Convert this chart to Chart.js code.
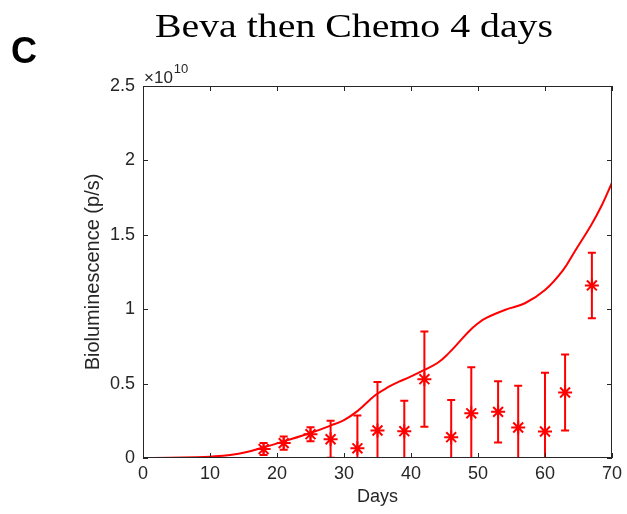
<!DOCTYPE html>
<html>
<head>
<meta charset="utf-8">
<script src="https://cdn.jsdelivr.net/npm/chart.js@4.4.1/dist/chart.umd.min.js"></script>
<style>
  html, body { margin: 0; padding: 0; background: #fff; }
  #wrap { width: 627px; height: 514px; position: relative; }
</style>
</head>
<body>
<div id="wrap"><canvas id="chart" width="627" height="514"></canvas></div>
<script>
// measured tumour signal (units of 1e10 p/s)
const obsDays = [18, 21, 25, 28, 32, 35, 39, 42, 46, 49, 53, 56, 60, 63, 67];
const obsMean = [0.06, 0.10, 0.16, 0.126, 0.065, 0.185, 0.18, 0.53, 0.14, 0.30, 0.31, 0.205, 0.178, 0.44, 1.16];
const obsErr  = [0.04, 0.045, 0.047, 0.124, 0.22, 0.325, 0.205, 0.32, 0.25, 0.31, 0.205, 0.28, 0.395, 0.255, 0.22];

// model fit
const fitDays = [0, 4, 8, 10, 13, 15.5, 18, 21, 25, 28, 30, 32, 34.7, 36.7, 38.2, 39.7, 42, 44, 45.6, 47, 48.6, 50, 51.1, 54, 57, 60, 62.7, 64.6, 66.9, 68.5, 70];
const fitVals = [0, 0.001, 0.005, 0.009, 0.02, 0.04, 0.072, 0.112, 0.168, 0.218, 0.255, 0.315, 0.423, 0.479, 0.513, 0.542, 0.592, 0.64, 0.703, 0.77, 0.849, 0.905, 0.939, 0.995, 1.04, 1.129, 1.263, 1.40, 1.566, 1.70, 1.85];

const xTicks = [0, 10, 20, 30, 40, 50, 60, 70];
const yTicks = [0, 0.5, 1, 1.5, 2, 2.5];

const RED = "#ff0000";
const AXIS = "#262626";

const extras = {
  id: "extras",
  afterDatasetsDraw(chart) {
    const { ctx, chartArea: a, scales: { x, y } } = chart;
    // error bars
    ctx.save();
    ctx.beginPath();
    ctx.rect(a.left, a.top, a.right - a.left, a.bottom - a.top);
    ctx.clip();
    ctx.strokeStyle = RED;
    ctx.lineWidth = 2;
    obsDays.forEach((d, i) => {
      const px = x.getPixelForValue(d);
      const top = y.getPixelForValue(obsMean[i] + obsErr[i]);
      const bot = y.getPixelForValue(obsMean[i] - obsErr[i]);
      ctx.beginPath();
      ctx.moveTo(px, top); ctx.lineTo(px, bot);
      ctx.moveTo(px - 4, top); ctx.lineTo(px + 4, top);
      ctx.moveTo(px - 4, bot); ctx.lineTo(px + 4, bot);
      ctx.stroke();
    });
    ctx.restore();

    // box and inward ticks
    ctx.save();
    ctx.strokeStyle = AXIS;
    ctx.lineWidth = 1;
    ctx.strokeRect(a.left + 0.5, a.top + 0.5, a.right - a.left - 1, a.bottom - a.top - 1);
    ctx.beginPath();
    xTicks.forEach(v => {
      const px = Math.round(x.getPixelForValue(v)) + 0.5;
      ctx.moveTo(px, a.bottom); ctx.lineTo(px, a.bottom - 5);
      ctx.moveTo(px, a.top); ctx.lineTo(px, a.top + 5);
    });
    yTicks.forEach(v => {
      const py = Math.round(y.getPixelForValue(v)) + 0.5;
      ctx.moveTo(a.left, py); ctx.lineTo(a.left + 5, py);
      ctx.moveTo(a.right, py); ctx.lineTo(a.right - 5, py);
    });
    ctx.stroke();

    // exponent label
    ctx.fillStyle = AXIS;
    ctx.textBaseline = "alphabetic";
    ctx.font = "17px 'Liberation Sans'";
    ctx.fillText("\u00d710", a.left + 1, a.top - 3);
    const w = ctx.measureText("\u00d710").width;
    ctx.font = "13px 'Liberation Sans'";
    ctx.fillText("10", a.left + 2 + w, a.top - 13);

    // panel letter
    ctx.fillStyle = "#000";
    ctx.font = "bold 36px 'Liberation Sans'";
    ctx.fillText("C", 11, 63);

    // title (stretched to the reference width)
    ctx.font = "33px 'Liberation Serif'";
    const t = "Beva then Chemo 4 days";
    const tw = ctx.measureText(t).width;
    ctx.translate(155, 37);
    ctx.scale(398 / tw, 1);
    ctx.fillText(t, 0, 0);
    ctx.restore();
  }
};

new Chart(document.getElementById("chart"), {
  type: "scatter",
  data: {
    datasets: [
      {
        type: "line",
        label: "fit",
        data: fitDays.map((d, i) => ({ x: d, y: fitVals[i] })),
        borderColor: RED,
        borderWidth: 2,
        pointRadius: 0,
        tension: 0.4,
        fill: false,
      },
      {
        label: "data",
        data: obsDays.map((d, i) => ({ x: d, y: obsMean[i] })),
        pointStyle: "star",
        pointRadius: 7,
        borderColor: RED,
        backgroundColor: RED,
        borderWidth: 2,
      },
    ],
  },
  options: {
    responsive: false,
    animation: false,
    layout: { padding: { top: 86, right: 13, left: 0, bottom: 0 } },
    plugins: { legend: { display: false }, tooltip: { enabled: false } },
    scales: {
      x: {
        type: "linear",
        min: 0, max: 70,
        afterBuildTicks: (s) => { s.ticks = xTicks.map(v => ({ value: v })); },
        afterFit: (s) => { s.height = 56; },
        grid: { display: false, drawTicks: false },
        border: { display: false },
        ticks: { color: AXIS, font: { family: "Liberation Sans", size: 18 }, padding: 5, maxRotation: 0 },
        title: { display: true, text: "Days", color: AXIS, font: { family: "Liberation Sans", size: 18 }, padding: { top: 0, bottom: 6 } },
      },
      y: {
        type: "linear",
        min: 0, max: 2.5,
        afterBuildTicks: (s) => { s.ticks = yTicks.map(v => ({ value: v })); },
        afterFit: (s) => { s.width = 143; },
        grid: { display: false, drawTicks: false },
        border: { display: false },
        ticks: { color: AXIS, font: { family: "Liberation Sans", size: 18 }, padding: 8, callback: (v) => String(v) },
        title: { display: true, text: "Bioluminescence (p/s)", color: AXIS, font: { family: "Liberation Sans", size: 20 }, padding: { top: 81, bottom: 0 } },
      },
    },
  },
  plugins: [extras],
});
</script>
</body>
</html>
